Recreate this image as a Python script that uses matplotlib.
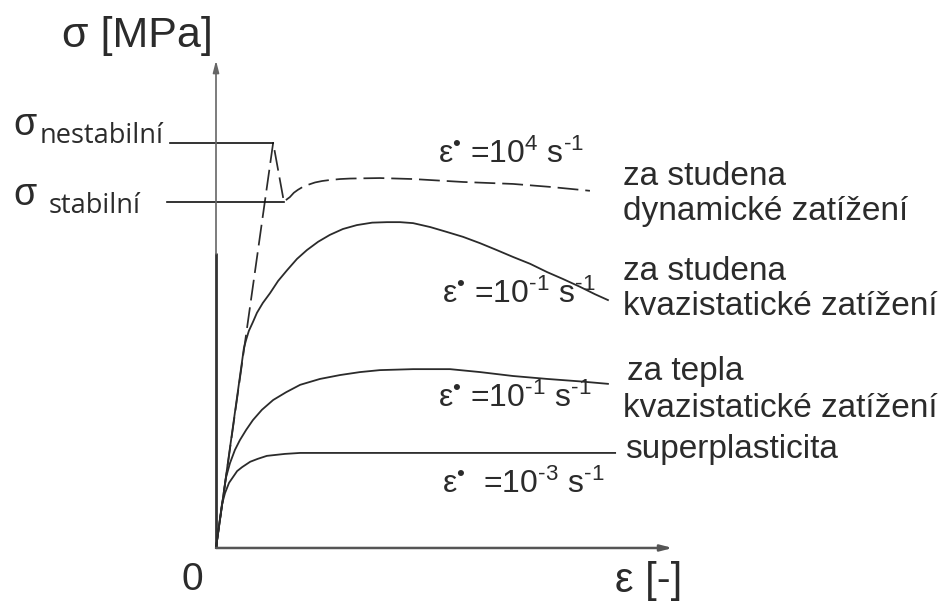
import numpy as np
import matplotlib.pyplot as plt

plt.rcParams['font.family'] = ['Liberation Sans', 'DejaVu Sans']
plt.rcParams['mathtext.fontset'] = 'custom'
plt.rcParams['mathtext.rm'] = 'Liberation Sans'
plt.rcParams['mathtext.it'] = 'Liberation Sans'

# strain / stress in arbitrary units (axis length ~10)
eps_dyn = [0.00, 1.27, 1.51, 1.58, 1.64, 1.73, 1.82, 1.93, 2.07, 2.20, 2.36, 2.53, 2.76, 2.98,
           3.64, 4.38, 5.49, 6.60, 7.42, 8.31]
sig_dyn = [0.00, 8.27, 7.06, 7.12, 7.16, 7.25, 7.31, 7.37, 7.42, 7.46, 7.49, 7.51, 7.53, 7.54,
           7.55, 7.53, 7.47, 7.43, 7.37, 7.29]

eps_cold = [0.00, 0.62, 0.67, 0.73, 0.82, 0.91, 1.04, 1.20, 1.38, 1.58, 1.80, 2.02, 2.27, 2.53,
            2.82, 3.13, 3.47, 3.80, 4.09, 4.38, 4.76, 5.13, 5.49, 5.87, 6.24, 6.60, 6.98, 7.36,
            7.71, 8.09, 8.42, 8.71]
sig_cold = [0.00, 4.08, 4.25, 4.43, 4.61, 4.80, 5.00, 5.20, 5.45, 5.67, 5.90, 6.08, 6.25, 6.39,
            6.51, 6.59, 6.64, 6.65, 6.65, 6.63, 6.55, 6.45, 6.35, 6.22, 6.08, 5.94, 5.80, 5.63,
            5.49, 5.33, 5.18, 5.06]

eps_warm = [0.00, 0.16, 0.22, 0.31, 0.42, 0.53, 0.67, 0.82, 1.02, 1.27, 1.56, 1.87, 2.31, 2.76,
            3.20, 3.64, 4.38, 5.20, 5.87, 6.60, 7.36, 8.09, 8.71]
sig_warm = [0.00, 1.04, 1.43, 1.73, 2.00, 2.20, 2.41, 2.61, 2.82, 3.02, 3.18, 3.33, 3.45, 3.53,
            3.59, 3.63, 3.65, 3.65, 3.59, 3.51, 3.45, 3.40, 3.35]

eps_sp = [0.00, 0.13, 0.20, 0.29, 0.38, 0.47, 0.58, 0.76, 0.93, 1.13, 1.33, 1.53, 1.87, 2.76, 8.87]
sig_sp = [0.00, 0.88, 1.12, 1.33, 1.45, 1.57, 1.65, 1.76, 1.82, 1.88, 1.90, 1.92, 1.94, 1.94, 1.94]

sig_unstable = 8.27
sig_stable = 7.06
eps_unstable = 1.27
eps_stable = 1.51

rates = ['4', '‐1', '‐1', '‐3']
rate_pos = [(4.93, 7.86), (5.02, 5.00), (4.93, 2.88), (5.02, 1.12)]

regimes = ['za studena', 'dynamické zatížení', 'za studena', 'kvazistatické zatížení',
           'za tepla', 'kvazistatické zatížení', 'superplasticita']
regime_pos = [(9.04, 7.41), (9.04, 6.69), (9.04, 5.47), (9.04, 4.76),
              (9.13, 3.43), (9.04, 2.67), (9.09, 1.84)]

ink = '#2b2b2b'

fig = plt.figure(figsize=(9.44, 6.01), dpi=100)
ax = fig.add_axes([0, 0, 1, 1])
ax.set_xlim(-4.8, 16.178)
ax.set_ylim(-1.082, 11.184)
ax.axis('off')

# axes with arrows
ax.plot([0, 0], [0, 6.02], color='#333333', lw=2.0, solid_capstyle='butt')
ax.annotate('', xy=(0, 9.95), xytext=(0, 6.0),
            arrowprops=dict(arrowstyle='-|>,head_length=0.7,head_width=0.18',
                            color='#666666', lw=1.2, shrinkA=0, shrinkB=0))
ax.annotate('', xy=(10.15, 0), xytext=(0, 0),
            arrowprops=dict(arrowstyle='-|>,head_length=0.7,head_width=0.18',
                            color='#555555', lw=1.8, shrinkA=0, shrinkB=0))

# curves
ax.plot(eps_dyn, sig_dyn, color=ink, lw=1.25, dashes=(12, 4))
ax.plot(eps_cold, sig_cold, color=ink, lw=1.3)
ax.plot(eps_warm, sig_warm, color=ink, lw=1.3)
ax.plot(eps_sp, sig_sp, color=ink, lw=1.3)

# unstable / stable stress levels
ax.plot([-1.02, eps_unstable], [sig_unstable, sig_unstable], color='#111111', lw=1.2)
ax.plot([-1.09, eps_stable], [sig_stable, sig_stable], color='#111111', lw=1.2)

ax.text(-4.51, 8.43, 'σ', fontsize=27, color=ink, va='baseline')
ax.text(-3.91, 8.27, 'nestabilní', fontsize=19.5, family='Open Sans', color=ink, va='baseline')
ax.text(-4.51, 7.00, 'σ', fontsize=27, color=ink, va='baseline')
ax.text(-3.73, 6.84, 'stabilní', fontsize=19.5, family='Open Sans', color=ink, va='baseline')

ax.text(-3.42, 10.22, 'σ [MPa]', fontsize=31, color=ink, va='baseline')
ax.text(-0.76, -0.86, '0', fontsize=28, color=ink, va='baseline')
ax.text(8.87, -0.90, 'ε [-]', fontsize=30, color=ink, va='baseline')

for r, (x, y) in zip(rates, rate_pos):
    gap = '  ' if r == '‐3' else ' '
    ax.text(x, y, 'ε$^{•}$' + gap + '=10$^{' + r + '}$ s$^{‐1}$',
            fontsize=23, color=ink, va='baseline')

for t, (x, y) in zip(regimes, regime_pos):
    ax.text(x, y, t, fontsize=24, color=ink, va='baseline')

fig.savefig('out.png', dpi=100)
